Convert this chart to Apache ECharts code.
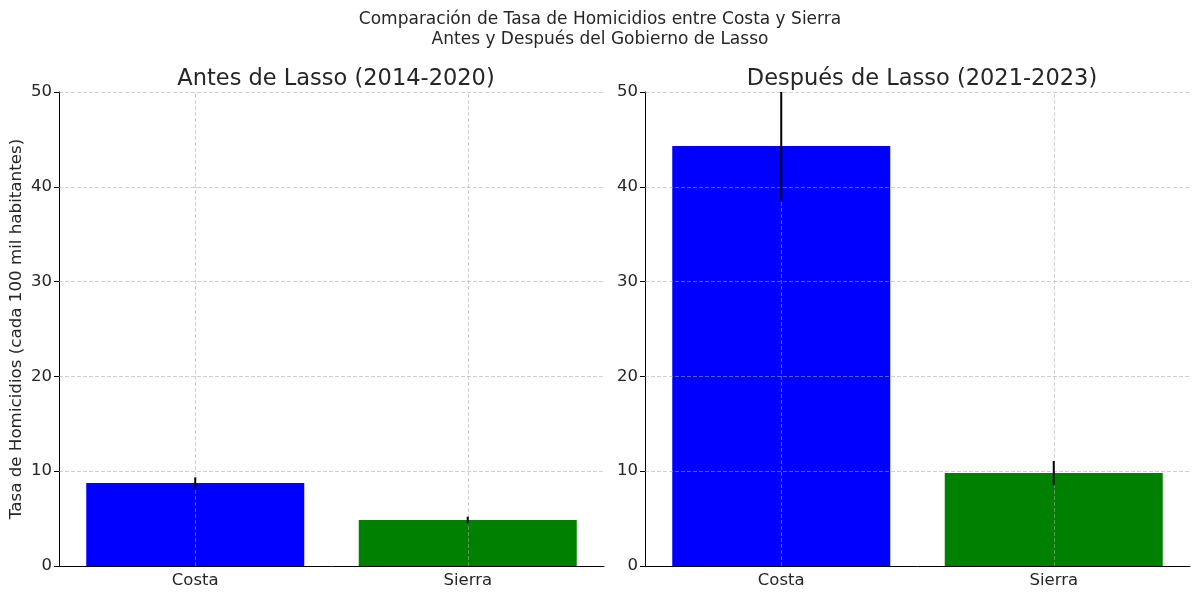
<!DOCTYPE html>
<html><head><meta charset="utf-8">
<script src="https://cdn.jsdelivr.net/npm/echarts@6/dist/echarts.min.js"></script>
<style>html,body{margin:0;padding:0;background:#fff}#c{width:1200px;height:598px}</style>
</head><body><div id="c"></div>
<script>
const categories = ['Costa', 'Sierra'];
const antesValues = [8.75, 4.85];
const antesErr = [0.6, 0.35];
const despuesValues = [44.3, 9.8];
const despuesErr = [5.75, 1.28];
const yTicks = [0, 10, 20, 30, 40, 50];
const barColors = ['#0000ff', '#008000'];
const suptitle = 'Comparación de Tasa de Homicidios entre Costa y Sierra\nAntes y Después del Gobierno de Lasso';
const subTitles = ['Antes de Lasso (2014-2020)', 'Después de Lasso (2021-2023)'];
const yName = 'Tasa de Homicidios (cada 100 mil habitantes)';

const FONT = 'DejaVu Sans';
const TXT = '#262626';
const GRIDC = 'rgba(170,170,170,0.55)';

function gridMarks() {
  const data = [];
  yTicks.slice(1).forEach(v => data.push({yAxis: v}));
  categories.forEach(c => data.push({xAxis: c}));
  return {
    silent: true, symbol: 'none', label: {show: false},
    lineStyle: {color: GRIDC, type: [4, 2], width: 1},
    data: data, animation: false
  };
}

function errSeries(idx, vals, errs) {
  return {
    type: 'custom', xAxisIndex: idx, yAxisIndex: idx, z: 10,
    data: vals.map((v, i) => [i, v, errs[i]]),
    renderItem: function (params, api) {
      const x = api.value(0), v = api.value(1), e = api.value(2);
      const top = Math.min(v + e, 50);
      const p1 = api.coord([x, v - e]);
      const p2 = api.coord([x, top]);
      return {type: 'line', shape: {x1: p1[0], y1: p1[1], x2: p2[0], y2: p2[1]},
        style: {stroke: '#000', lineWidth: 2}};
    },
    silent: true, animation: false
  };
}

function barSeries(idx, vals) {
  return {
    type: 'bar', xAxisIndex: idx, yAxisIndex: idx, barWidth: '80%',
    data: vals.map((v, i) => ({value: v, itemStyle: {color: barColors[i]}})),
    markLine: gridMarks(), animation: false
  };
}

const lefts = [59, 645];
const grids = lefts.map(l => ({left: l, top: 92, width: 545, height: 474}));
const xAxes = lefts.map((l, i) => ({
  type: 'category', gridIndex: i, data: categories,
  axisLine: {lineStyle: {color: '#000', width: 1}},
  axisTick: {show: false},
  axisLabel: {fontFamily: FONT, fontSize: 16.5, color: TXT, margin: 6},
  splitLine: {show: false}
}));
const yAxes = lefts.map((l, i) => ({
  type: 'value', gridIndex: i, min: 0, max: 50, interval: 10,
  axisLine: {show: true, lineStyle: {color: '#000', width: 1}},
  axisTick: {show: true, length: 5, lineStyle: {color: '#000'}},
  axisLabel: {fontFamily: FONT, fontSize: 16.5, color: TXT, margin: 7},
  splitLine: {show: false},
  name: i === 0 ? yName : '', nameLocation: 'middle', nameGap: 34,
  nameTextStyle: {fontFamily: FONT, fontSize: 16.7, color: TXT}
}));

const titles = [
  {text: suptitle, left: 'center', top: 5,
   textStyle: {fontFamily: FONT, fontSize: 17, fontWeight: 'normal', color: TXT, lineHeight: 20}},
  {text: subTitles[0], left: 331, top: 63, textAlign: 'center',
   textStyle: {fontFamily: FONT, fontSize: 22.5, fontWeight: 'normal', color: TXT}},
  {text: subTitles[1], left: 917, top: 63, textAlign: 'center',
   textStyle: {fontFamily: FONT, fontSize: 22.5, fontWeight: 'normal', color: TXT}}
];

const chart = echarts.init(document.getElementById('c'), null, {renderer: 'canvas'});
chart.setOption({
  backgroundColor: '#fff',
  animation: false,
  title: titles,
  grid: grids,
  xAxis: xAxes,
  yAxis: yAxes,
  series: [
    barSeries(0, antesValues), errSeries(0, antesValues, antesErr),
    barSeries(1, despuesValues), errSeries(1, despuesValues, despuesErr)
  ]
});
</script></body></html>
